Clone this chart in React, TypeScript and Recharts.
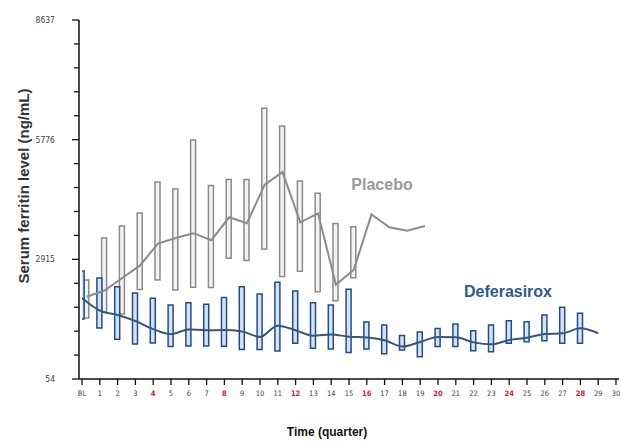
import React from 'react';
import { ComposedChart, Bar, Line, XAxis, YAxis } from 'recharts';

// Quarter index (0 = baseline "BL")
const quarters = [0, 1, 2, 3, 4, 5, 6, 7, 8, 9, 10, 11, 12, 13, 14, 15, 16, 17, 18, 19, 20, 21, 22, 23, 24, 25, 26, 27, 28, 29, 30];
const xTickLabels = ['BL', '1', '2', '3', '4', '5', '6', '7', '8', '9', '10', '11', '12', '13', '14', '15', '16', '17', '18', '19', '20', '21', '22', '23', '24', '25', '26', '27', '28', '29', '30'];
const redQuarters = [4, 8, 12, 16, 20, 24, 28];
const yMajorTicks = [54, 2915, 5776, 8637];

// Deferasirox box ranges and mean line
const defLow = [1489, 1273, 1003, 891, 915, 831, 843, 843, 835, 759, 759, 723, 908, 788, 771, 688, 771, 659, 747, 587, 831, 831, 731, 707, 908, 946, 970, 908, 908, null];
const defHigh = [2636, 2469, 2261, 2110, 1983, 1823, 1878, 1840, 2003, 2261, 2086, 2366, 2158, 1878, 1823, 2199, 1417, 1345, 1094, 1178, 1261, 1369, 1209, 1345, 1448, 1424, 1584, 1768, 1625, null];
const defMean = [1990, 1690, 1584, 1440, 1245, 1125, 1240, 1220, 1225, 1190, 1060, 1330, 1220, 1090, 1120, 1065, 1045, 980, 830, 940, 1060, 1050, 930, 884, 987, 1041, 1130, 1147, 1266, 1147];

// Placebo box ranges and mean line
const pboLow = [1513, 1656, 1608, 2194, 2421, 2182, 2247, 2242, 2940, 2887, 3162, 2505, 2629, 2141, 1926, 2476];
const pboHigh = [2421, 3425, 3712, 4023, 4764, 4597, 5768, 4681, 4824, 4826, 6527, 6103, 4788, 4494, 3772, 3696];
const pboMean = [2020, 2170, 2470, 2770, 3290, 3425, 3540, 3370, 3920, 3777, 4700, 5000, 3800, 4013, 2310, 2660, 3990, 3680, 3600, 3710];

const rows = defMean.map((_, i) => ({
  q: quarters[i],
  dLo: defLow[i] ?? null,
  dHi: defHigh[i] ?? null,
  dMean: defMean[i] ?? null,
  pLo: pboLow[i] ?? null,
  pHi: pboHigh[i] ?? null,
  pMean: pboMean[i] ?? null,
}));

const yTicks: number[] = [];
for (let k = 0; k < yMajorTicks.length - 1; k++) {
  const a = yMajorTicks[k];
  const b = yMajorTicks[k + 1];
  for (let j = 0; j < 5; j++) yTicks.push(a + ((b - a) * j) / 5);
}
yTicks.push(yMajorTicks[yMajorTicks.length - 1]);

const NARROW = '"Liberation Sans Narrow", "DejaVu Sans Condensed", "Liberation Sans", sans-serif';
const SANS = '"Liberation Sans", Arial, sans-serif';

const YTick = (props: any) => {
  const { x, y, payload } = props;
  const v = payload.value;
  const major = yMajorTicks.some((m) => Math.abs(m - v) < 1);
  return (
    <g>
      <line x1={x - (major ? 7 : 5)} x2={x} y1={y} y2={y} stroke="#111" strokeWidth={1.3} />
      {major && (
        <text x={x - 24} y={y} dy={3} textAnchor="end" fontSize={8.5} fontFamily={NARROW} fill="#444">
          {Math.round(v)}
        </text>
      )}
    </g>
  );
};

const XTick = (props: any) => {
  const { x, y, payload } = props;
  const v = payload.value;
  const red = redQuarters.includes(v);
  return (
    <text x={x} y={y} dy={9} textAnchor="middle" fontSize={7.5} fontFamily={NARROW} fontWeight={red ? 'bold' : 'normal'} fill={red ? '#d0202c' : '#444'}>
      {xTickLabels[quarters.indexOf(v)]}
    </text>
  );
};

const pboRange = (r: any) => (r.pHi == null ? null : [r.pLo, r.pHi]);
const defRange = (r: any) => (r.dHi == null ? null : [r.dLo, r.dHi]);

export default function App() {
  return (
    <div style={{ position: 'absolute', left: 0, top: 0, width: 621, height: 441, background: '#fff' }}>
      <ComposedChart width={621} height={441} data={rows} margin={{ top: 20, right: 2, bottom: 32, left: 19 }}>
        <XAxis
          xAxisId="m"
          type="number"
          dataKey="q"
          domain={[0, 30]}
          allowDataOverflow
          ticks={quarters}
          interval={0}
          padding={{ left: 3, right: 3 }}
          height={30}
          tick={<XTick />}
          tickSize={6}
          tickMargin={2}
          axisLine={{ stroke: '#111', strokeWidth: 1.5 }}
          tickLine={{ stroke: '#111', strokeWidth: 1.3 }}
        />
        <XAxis
          xAxisId="p"
          type="number"
          dataKey="q"
          domain={[-0.264, 29.736]}
          allowDataOverflow
          ticks={quarters}
          padding={{ left: 3, right: 3 }}
          hide
        />
        <YAxis
          type="number"
          domain={[54, 8637]}
          allowDataOverflow
          ticks={yTicks}
          interval={0}
          width={60}
          tick={<YTick />}
          tickLine={false}
          tickSize={0}
          tickMargin={0}
          axisLine={{ stroke: '#111', strokeWidth: 1.5 }}
        />
        <Bar xAxisId="p" dataKey={pboRange} barSize={5} fill="#f3f3f3" stroke="#8a8a8a" strokeWidth={1.5} isAnimationActive={false} />
        <Bar xAxisId="m" dataKey={defRange} barSize={5} fill="#d4e4f6" stroke="#1f4d8a" strokeWidth={1.5} isAnimationActive={false} />
        <Line xAxisId="p" dataKey="pMean" type="linear" stroke="#8c8c8c" strokeWidth={2} dot={false} isAnimationActive={false} />
        <Line xAxisId="m" dataKey="dMean" type="monotone" stroke="#35557c" strokeWidth={2} dot={false} isAnimationActive={false} />
      </ComposedChart>
      <svg width={621} height={441} style={{ position: 'absolute', left: 0, top: 0, pointerEvents: 'none' }}>
        <text transform="translate(29,186) rotate(-90)" textAnchor="middle" fontSize={15} fontWeight="bold" fontFamily={SANS} fill="#333">
          Serum ferritin level (ng/mL)
        </text>
        <text x={327} y={436} textAnchor="middle" fontSize={12} fontWeight="bold" fontFamily={SANS} fill="#111">
          Time (quarter)
        </text>
        <text x={382} y={190} textAnchor="middle" fontSize={16} fontWeight="bold" fontFamily={SANS} fill="#9a9a9a">
          Placebo
        </text>
        <text x={508} y={297} textAnchor="middle" fontSize={16} fontWeight="bold" fontFamily={SANS} fill="#2c5b8e">
          Deferasirox
        </text>
      </svg>
    </div>
  );
}
